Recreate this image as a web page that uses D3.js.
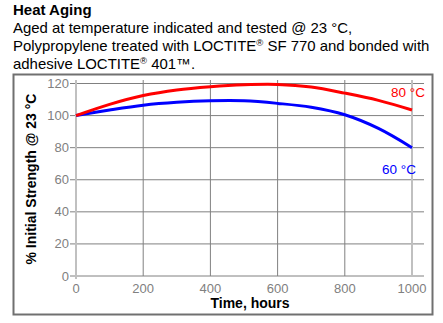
<!DOCTYPE html>
<html><head><meta charset="utf-8">
<script src="https://cdn.jsdelivr.net/npm/d3@7"></script>
<style>body{margin:0;background:#fff}svg{display:block;font-family:"Liberation Sans",Arial,sans-serif}</style>
</head><body><svg id="c" width="443" height="323"></svg>
<script>
const hours = [0,100,200,300,400,500,600,700,800,900,1000];
const strength80 = [100,107,112.5,116,118,119.2,119.4,117.8,114,109.5,103.5];
const strength60 = [100,103.5,106.5,108.3,109.2,109.2,107.6,105.2,100.5,92,80];
const xTicks = [0,200,400,600,800,1000];
const yTicks = [0,20,40,60,80,100,120];
const seriesNames = ["80 °C","60 °C"];

const svg = d3.select("#c");
const x = d3.scaleLinear().domain([0,1000]).range([76,412]);
const y = d3.scaleLinear().domain([0,120]).range([276,83.5]);

// title
svg.append("text").attr("x",13).attr("y",15).attr("font-size",15).attr("font-weight","bold").text("Heat Aging");
const sub = svg.append("text").attr("x",13).attr("font-size",14.95);
sub.append("tspan").attr("x",13).attr("y",33).text("Aged at temperature indicated and tested @ 23 °C,");
const l2 = sub.append("tspan").attr("x",13).attr("y",51);
l2.append("tspan").text("Polypropylene treated with LOCTITE");
l2.append("tspan").attr("font-size",9.5).attr("dy",-5).text("®");
l2.append("tspan").attr("dy",5).text(" SF 770 and bonded with");
const l3 = sub.append("tspan").attr("x",13).attr("y",69);
l3.append("tspan").text("adhesive LOCTITE");
l3.append("tspan").attr("font-size",9.5).attr("dy",-5).text("®");
l3.append("tspan").attr("dy",5).text(" 401™.");

// frame
svg.append("rect").attr("x",13.5).attr("y",74.5).attr("width",419).attr("height",240).attr("fill","none").attr("stroke","#707070").attr("stroke-width",2);

// horizontal grid
svg.append("g").selectAll("line").data(yTicks).join("line")
  .attr("x1",70).attr("x2",424).attr("y1",d=>y(d)).attr("y2",d=>y(d))
  .attr("stroke","#808080").attr("stroke-width",1);
// vertical grid
svg.append("g").selectAll("line").data(xTicks).join("line")
  .attr("x1",d=>x(d)).attr("x2",d=>x(d)).attr("y1",80).attr("y2",d=>d===0?279:276)
  .attr("stroke",d=>(d===0||d===1000)?"#c0c0c0":"#808080").attr("stroke-width",d=>(d===0||d===1000)?2:1);

// tick labels
svg.append("g").selectAll("text").data(yTicks).join("text")
  .attr("x",69).attr("y",d=>y(d)+4.5).attr("text-anchor","end").attr("font-size",13).attr("fill","#808080").text(d=>d);
svg.append("g").selectAll("text").data(xTicks).join("text")
  .attr("x",d=>x(d)).attr("y",293).attr("text-anchor","middle").attr("font-size",13).attr("fill","#808080").text(d=>d);

// axis titles
svg.append("text").attr("x",250).attr("y",308).attr("text-anchor","middle").attr("font-size",14).attr("font-weight","bold").text("Time, hours");
svg.append("text").attr("transform","translate(36,179) rotate(-90)").attr("text-anchor","middle").attr("font-size",14).attr("font-weight","bold").text("% Initial Strength @ 23 °C");

// lines
const line = d3.line().x(d=>x(d[0])).y(d=>y(d[1])).curve(d3.curveCatmullRom.alpha(0.5));
svg.append("path").datum(hours.map((h,i)=>[h,strength60[i]])).attr("d",line).attr("fill","none").attr("stroke","#0000ff").attr("stroke-width",3);
svg.append("path").datum(hours.map((h,i)=>[h,strength80[i]])).attr("d",line).attr("fill","none").attr("stroke","#ff0000").attr("stroke-width",3);

svg.append("text").attr("x",391).attr("y",96.5).attr("font-size",13.5).attr("fill","#ff0000").text(seriesNames[0]);
svg.append("text").attr("x",382).attr("y",174).attr("font-size",13.5).attr("fill","#0000ff").text(seriesNames[1]);
</script></body></html>
